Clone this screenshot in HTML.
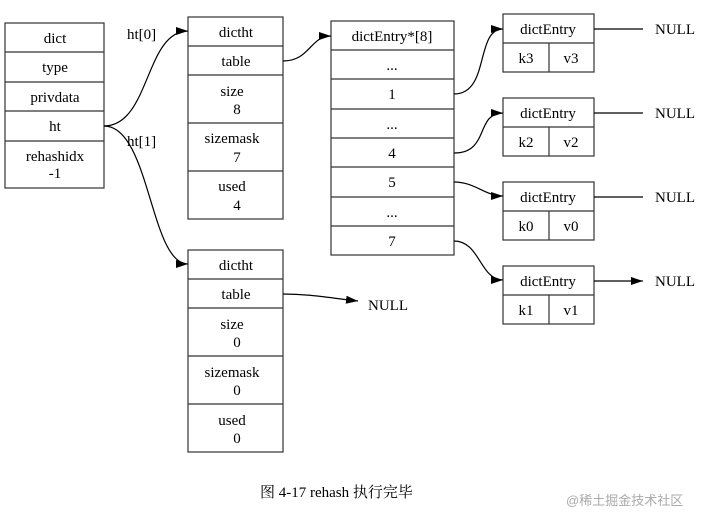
<!DOCTYPE html>
<html><head><meta charset="utf-8"><style>
body{margin:0;background:#fff;width:721px;height:517px;overflow:hidden}
svg text{font-family:"Liberation Serif","Noto Serif CJK SC",serif;font-size:15px;fill:#000}
</style></head><body>
<svg width="721" height="517" viewBox="0 0 721 517" xmlns="http://www.w3.org/2000/svg">
<defs><marker id="a" markerWidth="12" markerHeight="8" refX="12" refY="4" orient="auto" markerUnits="userSpaceOnUse"><path d="M0,0L12,4L0,8z" fill="#000"/></marker></defs>
<g fill="none" stroke="#333" stroke-width="1.2">
<rect x="5" y="23" width="99" height="165"/>
<path d="M5 52H104M5 82H104M5 111H104M5 141H104"/>
<rect x="188" y="17" width="95" height="202"/>
<path d="M188 46H283M188 75H283M188 123H283M188 171H283"/>
<rect x="188" y="250" width="95" height="202"/>
<path d="M188 279H283M188 308H283M188 356H283M188 404H283"/>
<rect x="331" y="21" width="123" height="234"/>
<path d="M331 50H454M331 79H454M331 109H454M331 138H454M331 167H454M331 197H454M331 226H454"/>
<rect x="503" y="14" width="91" height="58"/><path d="M503 43H594M549 43V72"/>
<rect x="503" y="98" width="91" height="58"/><path d="M503 127H594M549 127V156"/>
<rect x="503" y="182" width="91" height="58"/><path d="M503 211H594M549 211V240"/>
<rect x="503" y="266" width="91" height="58"/><path d="M503 295H594M549 295V324"/>
</g>
<g fill="none" stroke="#000" stroke-width="1.2" marker-end="url(#a)">
<path d="M104 126C150 126 145 31 188 31"/>
<path d="M104 126C150 126 150 264 188 264"/>
<path d="M283 61C310 61 310 36 331 36"/>
<path d="M454 94C490 94 475 29 503 29"/>
<path d="M454 153C490 153 475 113 503 113"/>
<path d="M454 182C475 182 485 196 503 196"/>
<path d="M454 241C480 241 480 280 503 280"/>
<path d="M594 29H643M594 113H643M594 197H643M594 281H643"/>
<path d="M283 294C310 294 330 298 358 301"/>
</g>
<g text-anchor="middle">
<text x="55" y="43">dict</text><text x="55" y="72">type</text><text x="55" y="102">privdata</text><text x="55" y="131">ht</text>
<text x="55" y="161">rehashidx</text><text x="55" y="178">-1</text>
<text x="236" y="37">dictht</text><text x="236" y="66">table</text>
<text x="232" y="96">size</text><text x="237" y="114">8</text>
<text x="232" y="143">sizemask</text><text x="237" y="162">7</text>
<text x="232" y="191">used</text><text x="237" y="210">4</text>
<text x="236" y="270">dictht</text><text x="236" y="299">table</text>
<text x="232" y="329">size</text><text x="237" y="347">0</text>
<text x="232" y="377">sizemask</text><text x="237" y="395">0</text>
<text x="232" y="425">used</text><text x="237" y="443">0</text>
<text x="392" y="41">dictEntry*[8]</text><text x="392" y="70">...</text><text x="392" y="99">1</text><text x="392" y="129">...</text>
<text x="392" y="158">4</text><text x="392" y="187">5</text><text x="392" y="217">...</text><text x="392" y="246">7</text>
<text x="548" y="34">dictEntry</text><text x="526" y="63">k3</text><text x="571" y="63">v3</text>
<text x="548" y="118">dictEntry</text><text x="526" y="147">k2</text><text x="571" y="147">v2</text>
<text x="548" y="202">dictEntry</text><text x="526" y="231">k0</text><text x="571" y="231">v0</text>
<text x="548" y="286">dictEntry</text><text x="526" y="315">k1</text><text x="571" y="315">v1</text>
</g>
<text x="127" y="39">ht[0]</text><text x="127" y="146">ht[1]</text>
<text x="655" y="34">NULL</text><text x="655" y="118">NULL</text><text x="655" y="202">NULL</text><text x="655" y="286">NULL</text>
<text x="368" y="310">NULL</text>
<text x="260" y="497">图 4-17    rehash 执行完毕</text>
<text x="566" y="505" style="font-size:13px;fill:#aaa;font-family:'Liberation Sans','Noto Sans CJK SC',sans-serif">@稀土掘金技术社区</text>
</svg>
</body></html>
